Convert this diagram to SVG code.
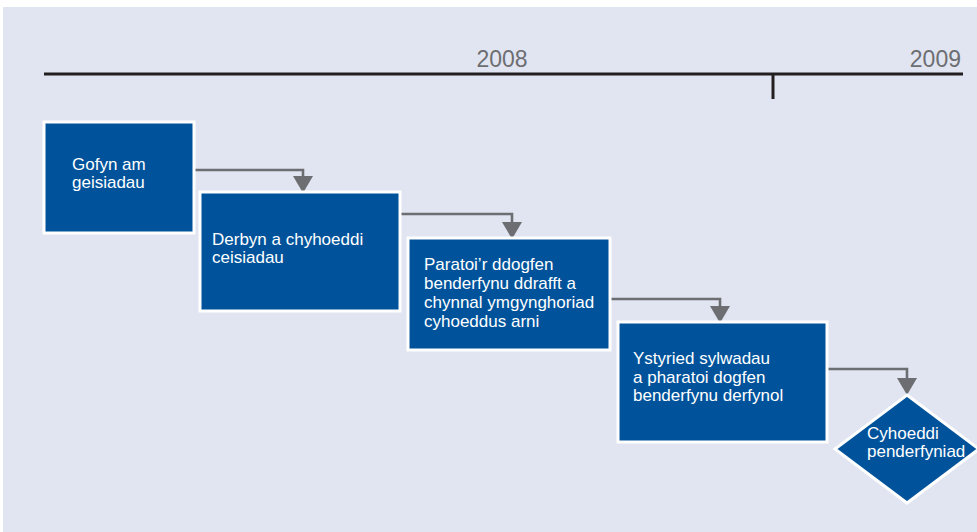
<svg xmlns="http://www.w3.org/2000/svg" width="977" height="532" viewBox="0 0 977 532">
<style>
.bg{fill:#e1e5f1}
.node{fill:#00539b;stroke:#ffffff;stroke-width:3}
.lbl{font-family:"Liberation Sans",Arial,sans-serif;font-size:17px;fill:#ffffff}
.year{font-family:"Liberation Sans",Arial,sans-serif;font-size:23px;fill:#6d6e71}
.axis{stroke:#231f20;stroke-width:3;fill:none}
.conn{stroke:#6d6e71;stroke-width:2.6;fill:none;marker-end:url(#arr)}
</style>
<defs>
<marker id="arr" markerUnits="userSpaceOnUse" viewBox="0 0 17 20" refX="14" refY="10" markerWidth="17" markerHeight="20" orient="auto">
<path d="M0,0 L17,10 L0,20 z" fill="#6d6e71"/>
</marker>
</defs>
<rect class="bg" x="3" y="7" width="974" height="525"/>
<g id="timeline">
<line class="axis" x1="44" y1="74" x2="963" y2="74"/>
<line class="axis" x1="773" y1="74" x2="773" y2="99" stroke-width="2"/>
<text class="year" x="502" y="67" text-anchor="middle">2008</text>
<text class="year" x="961" y="67" text-anchor="end">2009</text>
</g>
<g id="connectors">
<path class="conn" d="M194,170 H303 V190"/>
<path class="conn" d="M400,214 H512 V236"/>
<path class="conn" d="M610,299 H720 V320"/>
<path class="conn" d="M827,369 H907 V392"/>
</g>
<g id="n1">
<rect class="node" x="44" y="122" width="150" height="111"/>
<text class="lbl" x="72" y="170">Gofyn am</text>
<text class="lbl" x="72" y="188">geisiadau</text>
</g>
<g id="n2">
<rect class="node" x="200" y="192" width="200" height="119"/>
<text class="lbl" x="212" y="245">Derbyn a chyhoeddi</text>
<text class="lbl" x="212" y="263">ceisiadau</text>
</g>
<g id="n3">
<rect class="node" x="408" y="238" width="202" height="112"/>
<text class="lbl" x="424" y="270">Paratoi’r ddogfen</text>
<text class="lbl" x="424" y="289">benderfynu ddrafft a</text>
<text class="lbl" x="424" y="308">chynnal ymgynghoriad</text>
<text class="lbl" x="424" y="327">cyhoeddus arni</text>
</g>
<g id="n4">
<rect class="node" x="618" y="322" width="209" height="120"/>
<text class="lbl" x="633" y="364">Ystyried sylwadau</text>
<text class="lbl" x="633" y="383">a pharatoi dogfen</text>
<text class="lbl" x="633" y="401">benderfynu derfynol</text>
</g>
<g id="n5">
<polygon class="node" points="907,395 979,449 907,503 835,449"/>
<text class="lbl" x="867" y="439">Cyhoeddi</text>
<text class="lbl" x="867" y="457">penderfyniad</text>
</g>
</svg>
